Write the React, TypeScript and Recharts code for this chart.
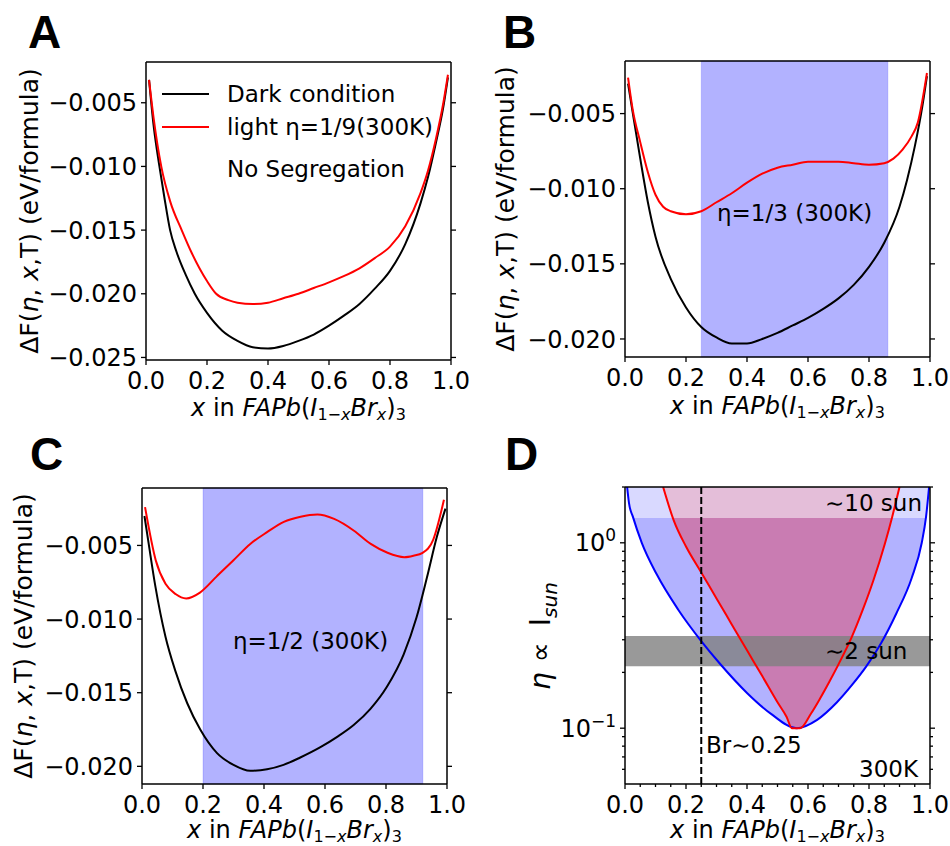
import React from 'react'
import { ComposedChart, Line, Area, XAxis, YAxis, ReferenceArea, ReferenceLine, Legend } from 'recharts'

const FONT = 'DejaVu Sans'
const W = 475
const H = 423

// ---- panel A: no segregation (eta = 1/9)
const xA = [0.01, 0.025, 0.044, 0.06, 0.079, 0.1, 0.13, 0.16, 0.2, 0.25, 0.3, 0.35, 0.4, 0.45, 0.5, 0.55, 0.6, 0.65, 0.7, 0.75, 0.8, 0.85, 0.9, 0.925, 0.95, 0.975, 0.99]
const darkA = [-0.0032, -0.0068, -0.0100, -0.0124, -0.0150, -0.0167, -0.0185, -0.0200, -0.0215, -0.0229, -0.0237, -0.0242, -0.0243, -0.0241, -0.0237, -0.0232, -0.0225, -0.0217, -0.0208, -0.0196, -0.0182, -0.0161, -0.0129, -0.0108, -0.0082, -0.0053, -0.0030]
const xLightA = [0.01, 0.025, 0.05, 0.08, 0.117, 0.15, 0.2, 0.23, 0.27, 0.3, 0.35, 0.4, 0.45, 0.5, 0.55, 0.6, 0.65, 0.7, 0.75, 0.8, 0.85, 0.9, 0.925, 0.95, 0.975, 0.99]
const lightA = [-0.0032, -0.0062, -0.0100, -0.0128, -0.0150, -0.0168, -0.0190, -0.0200, -0.0205, -0.0207, -0.0208, -0.0207, -0.02035, -0.0200, -0.01955, -0.0191, -0.0186, -0.0180, -0.0172, -0.0163, -0.0147, -0.0121, -0.0103, -0.0079, -0.0050, -0.0028]

// ---- panel B: eta = 1/3
const xDarkB = [0.01, 0.025, 0.05, 0.075, 0.1, 0.15, 0.2, 0.25, 0.3, 0.35, 0.4, 0.45, 0.5, 0.55, 0.6, 0.65, 0.7, 0.75, 0.8, 0.85, 0.9, 0.925, 0.95, 0.975, 0.99]
const darkB = [-0.0030, -0.0049, -0.0080, -0.0109, -0.0132, -0.0160, -0.0179, -0.0192, -0.0199, -0.0203, -0.0203, -0.0200, -0.0196, -0.0191, -0.0186, -0.0180, -0.0173, -0.0164, -0.0152, -0.0136, -0.0112, -0.0094, -0.0072, -0.0045, -0.0025]
const xLightB = [0.01, 0.025, 0.05, 0.075, 0.1, 0.125, 0.15, 0.2, 0.25, 0.3, 0.35, 0.4, 0.45, 0.5, 0.55, 0.6, 0.65, 0.7, 0.75, 0.8, 0.85, 0.88, 0.91, 0.94, 0.96, 0.99]
const lightB = [-0.0026, -0.0047, -0.0069, -0.0089, -0.0104, -0.0112, -0.0115, -0.0117, -0.0115, -0.0109, -0.0103, -0.0096, -0.0090, -0.0086, -0.0084, -0.0082, -0.0082, -0.0082, -0.0083, -0.0084, -0.0083, -0.0080, -0.0074, -0.0065, -0.0056, -0.0023]
const spanB = [0.25, 0.862]

// ---- panel C: eta = 1/2
const xDarkC = [0.008, 0.022, 0.044, 0.077, 0.109, 0.148, 0.191, 0.246, 0.3, 0.355, 0.41, 0.464, 0.519, 0.585, 0.64, 0.694, 0.749, 0.803, 0.858, 0.9, 0.934, 0.967, 0.995]
const darkC = [-0.0030, -0.0049, -0.0078, -0.0112, -0.0135, -0.0157, -0.0175, -0.0191, -0.0199, -0.0203, -0.0202, -0.0199, -0.0194, -0.0187, -0.0180, -0.0172, -0.0161, -0.0146, -0.0124, -0.0099, -0.0072, -0.0044, -0.0025]
const xLightC = [0.01, 0.045, 0.077, 0.11, 0.145, 0.19, 0.245, 0.3, 0.355, 0.41, 0.465, 0.52, 0.575, 0.63, 0.695, 0.75, 0.805, 0.86, 0.89, 0.92, 0.955, 0.99]
const lightC = [-0.0024, -0.0060, -0.0076, -0.0083, -0.0086, -0.0082, -0.0071, -0.0060, -0.0049, -0.0041, -0.0034, -0.00305, -0.0029, -0.0032, -0.0040, -0.0049, -0.0055, -0.0058, -0.0057, -0.0055, -0.0046, -0.0019]
const spanC = [0.2, 0.921]

// ---- panel D: segregation window (log eta)
const xBlueD = [0.007, 0.013, 0.026, 0.055, 0.104, 0.174, 0.25, 0.31, 0.4, 0.48, 0.563, 0.63, 0.695, 0.743, 0.79, 0.84, 0.89, 0.94, 0.973, 0.987, 0.997]
const etaBlueD = [2.0, 1.64, 1.38, 1.0, 0.676, 0.437, 0.295, 0.224, 0.155, 0.119, 0.1, 0.111, 0.138, 0.17, 0.214, 0.288, 0.417, 0.646, 1.0, 1.38, 2.0]
const xRedD = [0.125, 0.16, 0.2, 0.25, 0.3, 0.35, 0.4, 0.45, 0.5, 0.53, 0.547, 0.574, 0.61, 0.64, 0.67, 0.7, 0.743, 0.78, 0.814, 0.852, 0.876, 0.9]
const etaRedD = [2.0, 1.318, 0.955, 0.692, 0.501, 0.363, 0.263, 0.191, 0.138, 0.115, 0.1, 0.1, 0.12, 0.145, 0.178, 0.221, 0.309, 0.437, 0.624, 0.989, 1.38, 2.0]
const tenSun = [1.36, 2.0]
const twoSun = [0.216, 0.314]
const brLine = 0.25
const D_TOP = 2.0

const xTicks = [0, 0.2, 0.4, 0.6, 0.8, 1.0]
const xTicksD = [0, 0.05, 0.1, 0.15, 0.2, 0.25, 0.3, 0.35, 0.4, 0.45, 0.5, 0.55, 0.6, 0.65, 0.7, 0.75, 0.8, 0.85, 0.9, 0.95, 1.0]
const yTicksA = [-0.025, -0.02, -0.015, -0.01, -0.005]
const yTicksBC = [-0.02, -0.015, -0.01, -0.005]
const yTicksD = [0.06, 0.07, 0.08, 0.09, 0.1, 0.2, 0.3, 0.4, 0.5, 0.6, 0.7, 0.8, 0.9, 1, 2]
const yMajorD = [0.1, 1]

const pts = (xs: number[], ys: number[]) => xs.map((x, i) => ({ x, y: ys[i] }))
const band = (lo: number, hi: number) => [{ x: 0, r: [lo, hi] }, { x: 1, r: [lo, hi] }]
const toTop = (xs: number[], ys: number[]) => xs.map((x, i) => ({ x, r: [ys[i], D_TOP] }))

const TICK_FS = 24
const fmtX = (v: number) => v.toFixed(1)
const fmtY = (v: number) => v.toFixed(3).replace('-', '\u2212')
const fmtLog = (v: number) => (
  <>
    10<tspan dy={-10} fontSize={17}>{v >= 1 ? '0' : '\u22121'}</tspan>
  </>
)

function AxisTick(props: any) {
  const { x, y, payload, side, major, fmt } = props
  const v = payload.value
  const isMajor = major.some((m: number) => Math.abs(m - v) < 1e-9)
  const len = isMajor ? 5 : 3
  const ts = { fontFamily: FONT, fontSize: TICK_FS, fill: '#000' }
  if (side === 'bottom') {
    return (
      <g>
        <line x1={x} x2={x} y1={y} y2={y + len} stroke="#000" strokeWidth={1.3} />
        {fmt && isMajor && <text x={x} y={y + 11} dy="0.73em" textAnchor="middle" {...ts}>{fmt(v)}</text>}
      </g>
    )
  }
  if (side === 'top') {
    return <line x1={x} x2={x} y1={y} y2={y - len} stroke="#000" strokeWidth={1.3} />
  }
  if (side === 'left') {
    return (
      <g>
        <line x1={x} x2={x - len} y1={y} y2={y} stroke="#000" strokeWidth={1.3} />
        {fmt && isMajor && <text x={x - 9} y={y} dy="0.36em" textAnchor="end" {...ts}>{fmt(v)}</text>}
      </g>
    )
  }
  return <line x1={x} x2={x + len} y1={y} y2={y} stroke="#000" strokeWidth={1.3} />
}

function frame(o: { top: number; bottom: number; left: number; right: number; yDomain: number[]; yTicks: number[]; yMajor: number[]; yFmt: (v: number) => React.ReactNode; xTicks: number[]; log?: boolean }) {
  const axisLine = { stroke: '#000', strokeWidth: 1.5 }
  const common = { type: 'number' as const, interval: 0 as const, tickSize: 0, tickMargin: 0, tickLine: false, axisLine, allowDataOverflow: true }
  const yScale = o.log ? 'log' : 'auto'
  return [
    <XAxis key="xb" xAxisId="b" orientation="bottom" dataKey="x" height={o.bottom} domain={[0, 1]} ticks={o.xTicks} {...common} tick={<AxisTick side="bottom" major={xTicks} fmt={fmtX} />} />,
    <XAxis key="xt" xAxisId="t" orientation="top" height={o.top} domain={[0, 1]} ticks={o.xTicks} {...common} tick={<AxisTick side="top" major={xTicks} />} />,
    <YAxis key="yl" yAxisId="l" orientation="left" width={o.left} domain={o.yDomain} ticks={o.yTicks} scale={yScale as any} {...common} tick={<AxisTick side="left" major={o.yMajor} fmt={o.yFmt} />} />,
    <YAxis key="yr" yAxisId="r" orientation="right" width={o.right} domain={o.yDomain} ticks={o.yTicks} scale={yScale as any} {...common} tick={<AxisTick side="right" major={o.yMajor} />} />,
  ]
}

const lineProps = { xAxisId: 'b', yAxisId: 'l', dataKey: 'y', dot: false, type: 'monotone' as const, strokeWidth: 2, isAnimationActive: false }
const margin = { top: 0, right: 0, bottom: 0, left: 0 }

function LegendA(props: any) {
  const items = props.payload || []
  return (
    <div style={{ fontFamily: FONT, fontSize: 23, color: '#000' }}>
      {items.map((it: any) => (
        <div key={it.value} style={{ display: 'flex', alignItems: 'center', height: 33 }}>
          <svg width={47} height={4}><line x1={0} x2={47} y1={2} y2={2} stroke={it.color} strokeWidth={2} /></svg>
          <span style={{ marginLeft: 18, whiteSpace: 'nowrap' }}>{it.value}</span>
        </div>
      ))}
    </div>
  )
}

function XLabel({ cx, y }: { cx: number; y: number }) {
  const it = { fontStyle: 'italic' as const }
  return (
    <text x={cx} y={y} textAnchor="middle" fontFamily={FONT} fontSize={24}>
      <tspan {...it}>x</tspan> in <tspan {...it}>FAPb</tspan>(<tspan {...it}>I</tspan>
      <tspan dy={4} fontSize={16}>1−<tspan {...it}>x</tspan></tspan>
      <tspan dy={-4} {...it}>Br</tspan>
      <tspan dy={4} fontSize={16} {...it}>x</tspan>
      <tspan dy={-4}>)</tspan>
      <tspan dy={4} fontSize={16}>3</tspan>
    </text>
  )
}

function YLabel({ x, cy }: { x: number; cy: number }) {
  return (
    <text transform={`translate(${x},${cy}) rotate(-90)`} textAnchor="middle" fontFamily={FONT} fontSize={25}>
      ΔF(<tspan fontStyle="italic">η</tspan>, <tspan fontStyle="italic">x</tspan>,T) (eV/formula)
    </text>
  )
}

export default function App() {
  const span = { fill: '#0000ff', fillOpacity: 0.3, stroke: '#0000ff', strokeOpacity: 0.15, xAxisId: 'b', yAxisId: 'l' }
  const txt = { fontFamily: FONT, fontSize: 23, fill: '#000' }
  const letter = { fontFamily: 'Liberation Sans', fontWeight: 700, fontSize: 46, fill: '#000' }
  return (
    <div style={{ position: 'absolute', left: 0, top: 0, width: 950, height: 846, background: '#fff' }}>
      <div style={{ position: 'absolute', left: 0, top: 0 }}>
        <ComposedChart width={W} height={H} margin={margin}>
          {frame({ top: 62, bottom: 63, left: 146, right: 24, yDomain: [-0.0252, -0.0018], yTicks: yTicksA, yMajor: yTicksA, yFmt: fmtY, xTicks })}
          <Line {...lineProps} data={pts(xA, darkA)} stroke="#000" name="Dark condition" />
          <Line {...lineProps} data={pts(xLightA, lightA)} stroke="#ff0000" name="light η=1/9(300K)" />
          <Legend layout="vertical" align="center" verticalAlign="middle" content={LegendA}
            wrapperStyle={{ left: 162, top: 77.5, right: 'auto', bottom: 'auto', width: 280 }} />
        </ComposedChart>
      </div>
      <div style={{ position: 'absolute', left: 475, top: 0 }}>
        <ComposedChart width={W} height={H} margin={margin}>
          {frame({ top: 61, bottom: 66, left: 150, right: 20, yDomain: [-0.0212, -0.0015], yTicks: yTicksBC, yMajor: yTicksBC, yFmt: fmtY, xTicks })}
          <ReferenceArea x1={spanB[0]} x2={spanB[1]} {...span} />
          <Line {...lineProps} data={pts(xDarkB, darkB)} stroke="#000" />
          <Line {...lineProps} data={pts(xLightB, lightB)} stroke="#ff0000" />
        </ComposedChart>
      </div>
      <div style={{ position: 'absolute', left: 0, top: 423 }}>
        <ComposedChart width={W} height={H} margin={margin}>
          {frame({ top: 65, bottom: 62, left: 142, right: 28, yDomain: [-0.0212, -0.0011], yTicks: yTicksBC, yMajor: yTicksBC, yFmt: fmtY, xTicks })}
          <ReferenceArea x1={spanC[0]} x2={spanC[1]} {...span} />
          <Line {...lineProps} data={pts(xDarkC, darkC)} stroke="#000" />
          <Line {...lineProps} data={pts(xLightC, lightC)} stroke="#ff0000" />
        </ComposedChart>
      </div>
      <div style={{ position: 'absolute', left: 475, top: 423 }}>
        <ComposedChart width={W} height={H} margin={margin}>
          {frame({ top: 64, bottom: 62, left: 150, right: 20, yDomain: [0.05, D_TOP], yTicks: yTicksD, yMajor: yMajorD, yFmt: fmtLog, xTicks: xTicksD, log: true })}
          <Area xAxisId="b" yAxisId="l" data={toTop(xBlueD, etaBlueD)} dataKey="r" type="monotone" stroke="none" fill="#0000ff" fillOpacity={0.3} isAnimationActive={false} />
          <Area xAxisId="b" yAxisId="l" data={toTop(xRedD, etaRedD)} dataKey="r" type="monotone" stroke="none" fill="#ff0000" fillOpacity={0.3} isAnimationActive={false} />
          <Area xAxisId="b" yAxisId="l" data={band(tenSun[0], tenSun[1])} dataKey="r" type="linear" stroke="none" fill="#ffffff" fillOpacity={0.5} isAnimationActive={false} />
          <Area xAxisId="b" yAxisId="l" data={band(twoSun[0], twoSun[1])} dataKey="r" type="linear" stroke="none" fill="#808080" fillOpacity={0.8} isAnimationActive={false} />
          <Line {...lineProps} data={pts(xBlueD, etaBlueD)} stroke="#0000ff" />
          <Line {...lineProps} data={pts(xRedD, etaRedD)} stroke="#ff0000" />
          <ReferenceLine xAxisId="b" yAxisId="l" x={brLine} stroke="#000" strokeWidth={2} strokeDasharray="7 3" />
        </ComposedChart>
      </div>
      <svg width={950} height={846} style={{ position: 'absolute', left: 0, top: 0, pointerEvents: 'none' }}>
        <text x={28} y={48} {...letter}>A</text>
        <text x={503} y={48} {...letter}>B</text>
        <text x={30} y={470} {...letter}>C</text>
        <text x={505} y={470} {...letter}>D</text>
        <XLabel cx={298.5} y={416} />
        <XLabel cx={777.5} y={414} />
        <XLabel cx={294.5} y={838} />
        <XLabel cx={777.5} y={838} />
        <YLabel x={38} cy={211} />
        <YLabel x={514} cy={209} />
        <YLabel x={32} cy={636} />
        <text transform="translate(550,636) rotate(-90)" textAnchor="middle" fontFamily={FONT} fontSize={28}>
          <tspan fontStyle="italic">η</tspan><tspan dx={10}>∝</tspan><tspan dx={16}>I</tspan><tspan dy={7} fontSize={20} fontStyle="italic">sun</tspan>
        </text>
        <text x={227} y={177} {...txt}>No Segregation</text>
        <text x={717} y={221} {...txt}>η=1/3 (300K)</text>
        <text x={233} y={649} {...txt}>η=1/2 (300K)</text>
        <text x={922} y={511} textAnchor="end" {...txt}>∼10 sun</text>
        <text x={825} y={659} {...txt}>∼2 sun</text>
        <text x={706} y={753} {...txt}>Br∼0.25</text>
        <text x={918} y={777} textAnchor="end" {...txt}>300K</text>
      </svg>
    </div>
  )
}
